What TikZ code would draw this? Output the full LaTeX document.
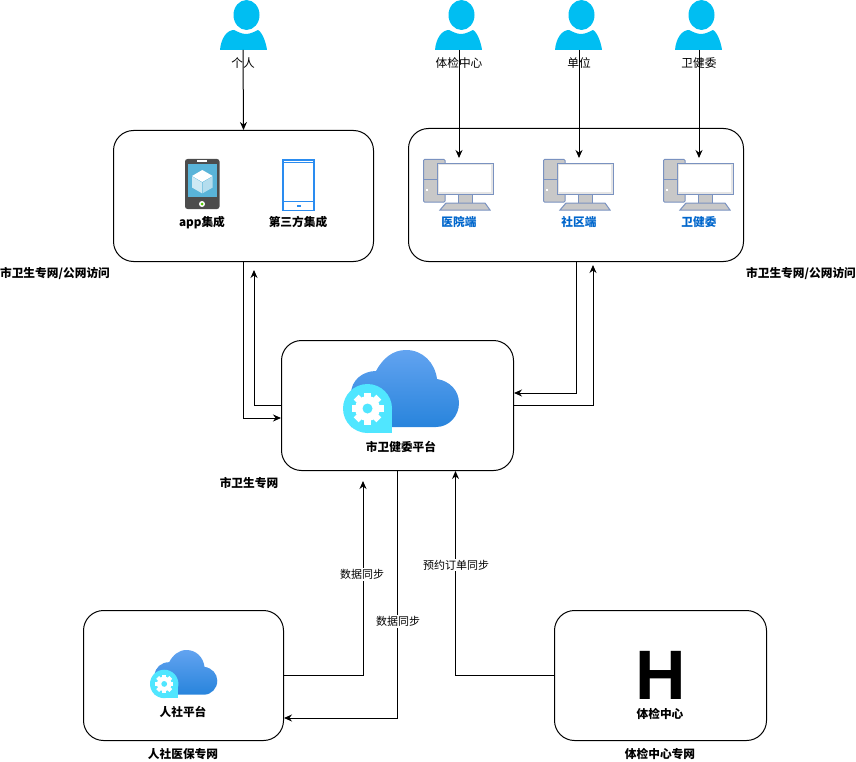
\documentclass[tikz,border=0pt]{standalone}
\usepackage{fontspec}
\setmainfont{Noto Sans CJK SC}
\newfontfamily\hfont{Liberation Sans}
\usetikzlibrary{arrows.meta}
\definecolor{personblue}{HTML}{00BEF2}
\definecolor{pcline}{HTML}{7A92C0}
\definecolor{pcgray}{HTML}{C8C8C8}
\definecolor{labelblue}{HTML}{0066CC}
\definecolor{tagcyan}{HTML}{50E6FF}
\definecolor{tabletblue}{HTML}{2A8CF0}
\definecolor{cloudtop}{HTML}{62A3F0}
\definecolor{cloudbot}{HTML}{2884DC}
\definecolor{phonescreen}{HTML}{59B4D9}
\tikzset{
  panelbox/.style={draw, rounded corners=20pt, inner sep=0pt, anchor=north west},
  lbl/.style={font=\fontsize{11.7}{13}\selectfont, inner sep=0pt},
  boldlbl/.style={lbl, font=\fontsize{11.7}{13}\selectfont\bfseries},
  bluelbl/.style={boldlbl, text=labelblue},
  edgelbl/.style={font=\fontsize{11}{13}\selectfont, fill=white, inner sep=1pt},
  personicon/.pic={
    \fill[personblue] (26.5,15) ellipse (13 and 15);
    \fill[personblue] (0,50) .. controls (1,38) and (7,30) .. (14,30)
      .. controls (18,32) and (22,34) .. (26,34) .. controls (30,34) and (34,32) .. (38,30)
      .. controls (42,32) and (46,42) .. (47,50) -- cycle;
  },
  desktopicon/.pic={
    \draw[pcline, fill=pcgray, rounded corners=1pt] (0.5,0.5) rectangle (22,43);
    \draw[pcline] (0.5,21) -- (22,21);
    \fill[white] (2.5,30) rectangle (5,32.5);
    \draw[pcline, fill=pcgray] (35,36) rectangle (49,44);
    \draw[pcline, fill=pcgray] (17,51) -- (23,44) -- (62,44) -- (67,51) -- cycle;
    \draw[pcline, fill=black!10] (14.5,4.5) rectangle (70.5,36);
    \fill[white] (16,6) rectangle (68,33);
  },
  % large cloud with the gear tag, origin at its upper left
  cloudicon/.pic={
    \shade[top color=cloudtop, bottom color=cloudbot]
      (8,77) -- (8,44) .. controls (8,30) and (20,21) .. (33,21)
      .. controls (40,8) and (50,0) .. (63,0) .. controls (80,0) and (92,13) .. (94,29)
      .. controls (107,31) and (116,41) .. (116,53) .. controls (116,66) and (106,77) .. (93,77) -- cycle;
    \fill[tagcyan] (24.5,58.5) circle (24.5);
    \fill[tagcyan] (24.5,58.5) rectangle (49,83);
    \foreach \a in {0,45,...,315}
      \fill[white, rotate around={\a:(24.5,58.5)}] (21,42.5) rectangle (28,50);
    \fill[white] (24.5,58.5) circle (12.5);
    \fill[tagcyan] (24.5,58.5) circle (5);
  },
}
\begin{document}
\begin{tikzpicture}[x=1pt, y=-1pt, >={Stealth[length=8pt,width=7pt]}, line width=1pt]
  \useasboundingbox (0,0) rectangle (856,762);

  % panels
  \node[panelbox, minimum width=260pt, minimum height=131pt] (appbox) at (113,130) {};
  \node[panelbox, minimum width=335pt, minimum height=133pt] (pcbox) at (408,128) {};
  \node[panelbox, minimum width=232pt, minimum height=130pt] (platform) at (281,340) {};
  \node[panelbox, minimum width=200pt, minimum height=130pt] (renshe) at (83,610) {};
  \node[panelbox, minimum width=212pt, minimum height=130pt] (tijian) at (554,610) {};

  % users
  \pic at (220,0) {personicon};
  \pic at (435,0) {personicon};
  \pic at (555,0) {personicon};
  \pic at (675,0) {personicon};
  \coordinate (usergeren) at (243,50);
  \coordinate (usertijian) at (459,50);
  \coordinate (userdanwei) at (579,50);
  \coordinate (userwjw) at (699,50);
  \node[lbl] (lblgeren) at (243,63) {个人};
  \node[lbl] (lbltijian) at (459,63) {体检中心};
  \node[lbl] (lbldanwei) at (579,63) {单位};
  \node[lbl] (lblwjw) at (699,63) {卫健委};

  % phone
  \fill[black!70, rounded corners=2.5pt] (185,159) rectangle (219.5,209);
  \fill[white] (197,160.5) rectangle (207,161.8);
  \fill[phonescreen] (187.5,164) rectangle (217,197);
  \fill[white] (202.3,170) -- (212.7,176) -- (202.3,182) -- (192,176) -- cycle;
  \fill[white!70!phonescreen] (192,176.5) -- (202,182.5) -- (202,193.3) -- (192,187.5) -- cycle;
  \fill[white!55!phonescreen] (212.7,176.5) -- (202.6,182.5) -- (202.6,193.3) -- (212.7,187.5) -- cycle;
  \fill[white] (202,204) circle (3);
  \fill[green!60!yellow!80!black] (202,204) circle (1.5);
  % tablet
  \draw[tabletblue, line width=1.6pt] (282.8,159.8) rectangle (313.8,210.4);
  \draw[tabletblue] (283,163) -- (314,163);
  \draw[tabletblue] (283,201.5) -- (314,201.5);
  \fill[tabletblue] (296.5,205) rectangle (300.5,207);
  \node[boldlbl] (lblapp) at (202,222.5) {app集成};
  \node[boldlbl] (lblthird) at (298,222.5) {第三方集成};

  % desktops
  \pic at (423,159) {desktopicon};
  \pic at (543,159) {desktopicon};
  \pic at (663,159) {desktopicon};
  \node[bluelbl] (lblhosp) at (459,222.5) {医院端};
  \node[bluelbl] (lblcomm) at (579,222.5) {社区端};
  \node[bluelbl] (lblwjwpc) at (699,222.5) {卫健委};

  % clouds and the H
  \pic at (343,350) {cloudicon};
  \pic[scale=0.58] at (150,650) {cloudicon};
  \node[boldlbl] (lblplatform) at (401,446.5) {市卫健委平台};
  \node[boldlbl] (lblrenshe) at (183,711.5) {人社平台};
  \node[inner sep=0pt, font=\hfont\bfseries\fontsize{70}{70}\selectfont] (hmark) at (660.5,675) {H};
  \node[boldlbl] (lbltj) at (660,713.5) {体检中心};

  % free ends of the connectors
  \coordinate (pchosp) at (459,158);
  \coordinate (pccomm) at (579,158);
  \coordinate (pcwjw) at (699,158);
  \coordinate (appin) at (281,418);
  \coordinate (appback) at (254,270);
  \coordinate (backout) at (281,405);
  \coordinate (pcin) at (514,393);
  \coordinate (pcback) at (593,265);
  \coordinate (rensheup) at (363,481);
  \coordinate (rensheback) at (284,718);
  \coordinate (tijianup) at (455.5,471);

  % connectors
  \draw[->] (usergeren) -- (appbox.north);
  \draw[->] (usertijian) -- (pchosp);
  \draw[->] (userdanwei) -- (pccomm);
  \draw[->] (userwjw) -- (pcwjw);
  \draw[->] (appbox.south) |- (appin);
  \draw[->] (backout) -| (appback);
  \draw[->] (pcbox.south) |- (pcin);
  \draw[->] (platform.east) -| (pcback);
  \draw[->] (renshe.east) -| (rensheup);
  \draw[->] (platform.south) |- (rensheback);
  \draw[->] (tijian.west) -| (tijianup);

  % texts on and beside the lines
  \node[edgelbl] (lblsynca) at (362,574.5) {数据同步};
  \node[edgelbl] (lblsyncb) at (398,621.5) {数据同步};
  \node[edgelbl] (lblorder) at (456,565) {预约订单同步};
  \node[boldlbl] (netleft) at (55,273.5) {市卫生专网/公网访问};
  \node[boldlbl] (netright) at (801,273.5) {市卫生专网/公网访问};
  \node[boldlbl] (netcity) at (249,483.5) {市卫生专网};
  \node[boldlbl] (netrenshe) at (183,754) {人社医保专网};
  \node[boldlbl] (nettijian) at (660,754) {体检中心专网};
\end{tikzpicture}
\end{document}
